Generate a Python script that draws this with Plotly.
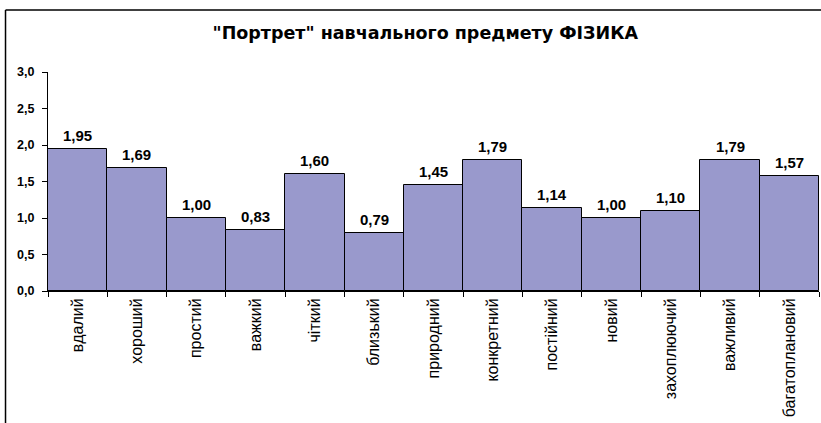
import plotly.graph_objects as go

categories = ["вдалий", "хороший", "простий", "важкий", "чіткий", "близький", "природний",
              "конкретний", "постійний", "новий", "захоплюючий", "важливий", "багатоплановий"]
values = [1.95, 1.69, 1.00, 0.83, 1.60, 0.79, 1.45, 1.79, 1.14, 1.00, 1.10, 1.79, 1.57]
title_text = '"Портрет" навчального предмету ФІЗИКА'

fig = go.Figure()
fig.add_trace(go.Bar(
    x=categories, y=values,
    marker=dict(color="#9999CC", line=dict(color="black", width=1)),
    hoverinfo="x+y",
))

for c, v in zip(categories, values):
    fig.add_annotation(x=c, y=v, text=f"{v:.2f}".replace(".", ","), showarrow=False,
                       yanchor="bottom", yshift=3,
                       font=dict(family="Liberation Sans", size=15, color="black", weight="bold"))

fig.update_layout(
    width=821, height=423,
    margin=dict(l=48, r=2, t=72, b=132, autoexpand=False),
    paper_bgcolor="white", plot_bgcolor="white",
    separators=",.",
    bargap=0,
    showlegend=False,
    title=dict(text=title_text, x=0.518, xanchor="center", y=0.922, yanchor="middle",
               font=dict(family="DejaVu Sans", size=17.5, color="black", weight="bold")),
    xaxis=dict(showline=True, linecolor="black", linewidth=1, ticks="outside", ticklen=5,
               tickcolor="black", tickson="boundaries", tickangle=-90, automargin=False,
               tickfont=dict(family="Liberation Sans Narrow, Liberation Sans", size=16, color="black")),
    yaxis=dict(range=[0, 3], dtick=0.5, tickformat=".1f", showline=True, linecolor="black",
               linewidth=1, ticks="outside", ticklen=5, tickcolor="black", showgrid=False,
               zeroline=False, automargin=False, ticklabelstandoff=5,
               tickfont=dict(family="Liberation Sans", size=12.5, color="black", weight="bold")),
    shapes=[
        dict(type="line", xref="paper", yref="paper", x0=-0.0551, x1=1.1, y0=1.283, y1=1.283,
             line=dict(color="black", width=1.5)),
        dict(type="line", xref="paper", yref="paper", x0=-0.0551, x1=-0.0551, y0=1.283, y1=-0.7,
             line=dict(color="black", width=1.5)),
    ],
)

fig.write_html("out.html", config={"displayModeBar": False},
               post_script="document.body.style.margin='0';")
